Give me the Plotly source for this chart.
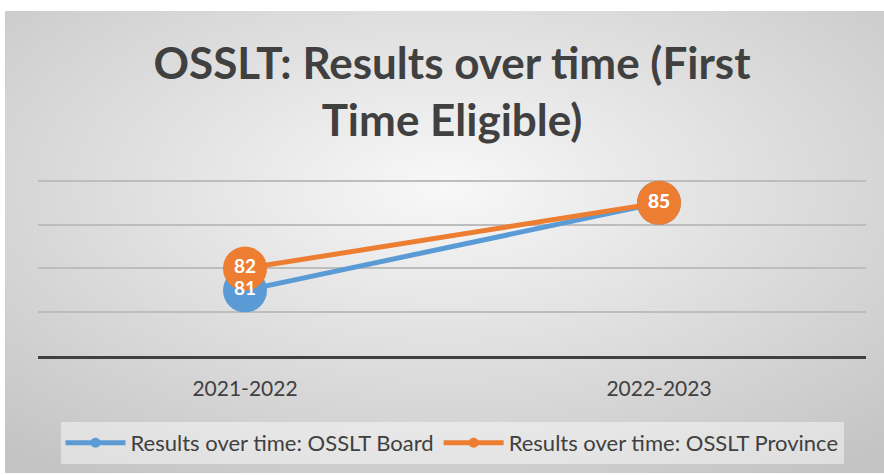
import base64
import plotly.graph_objects as go

# ---- data ----
categories = ["2021-2022", "2022-2023"]
board_values = [81, 85]
province_values = [82, 85]
series_names = ["Results over time: OSSLT Board", "Results over time: OSSLT Province"]
title_text = "OSSLT: Results over time (First<br>Time Eligible)"
y_min, y_max, y_step = 78, 86, 2

# ---- style ----
BLUE = "#5B9BD5"
ORANGE = "#ED7D31"
TEXT = "#404040"
FONT = "Lato"

W, H = 884, 475
ML, MR, MT, MB = 38, 18, 177, 118
PW, PH = W - ML - MR, H - MT - MB
PX_PER_UNIT = 22.0
y_top = y_min + PH / PX_PER_UNIT  # a little above the top gridline so it is drawn

svg = (
    '<svg xmlns="http://www.w3.org/2000/svg" width="879" height="465" '
    'viewBox="0 0 879 465" preserveAspectRatio="none"><defs>'
    '<radialGradient id="g" cx="50%" cy="38%" r="75%">'
    '<stop offset="0" stop-color="#f8f8f8"/>'
    '<stop offset="1" stop-color="#c4c4c4"/>'
    '</radialGradient></defs>'
    '<rect width="879" height="465" fill="url(#g)"/></svg>'
)
bg_uri = "data:image/svg+xml;base64," + base64.b64encode(svg.encode()).decode()

fig = go.Figure()

for vals, color in [(board_values, BLUE), (province_values, ORANGE)]:
    fig.add_trace(go.Scatter(
        x=categories, y=vals, mode="lines+markers",
        line=dict(color=color, width=5),
        marker=dict(color=color, size=44),
        showlegend=False, hoverinfo="skip",
    ))

for vals in [board_values, province_values]:
    fig.add_trace(go.Scatter(
        x=categories, y=vals, mode="text",
        text=[str(v) for v in vals], textposition="middle center",
        textfont=dict(family=FONT, size=19, color="white", weight="bold"),
        showlegend=False, hoverinfo="skip",
    ))

for name, color in zip(series_names, [BLUE, ORANGE]):
    fig.add_trace(go.Scatter(
        x=[None], y=[None], mode="lines+markers", name=name,
        line=dict(color=color, width=5),
        marker=dict(color=color, size=10),
    ))

fig.update_layout(
    width=W, height=H, autosize=False,
    margin=dict(l=ML, r=MR, t=MT, b=MB, pad=0),
    paper_bgcolor="white",
    plot_bgcolor="rgba(0,0,0,0)",
    title=dict(
        text=title_text, x=452 / W, xanchor="center",
        y=1 - 79 / H, yanchor="middle", yref="container",
        font=dict(family=FONT, size=44, color=TEXT, weight="bold"),
    ),
    images=[dict(
        source=bg_uri, xref="paper", yref="paper",
        x=(5 - ML) / PW, y=(H - MB - 10) / PH,
        sizex=879 / PW, sizey=465 / PH,
        xanchor="left", yanchor="top", sizing="stretch", layer="below",
    )],
    xaxis=dict(
        type="category", range=[-0.5, 1.5],
        showline=True, linecolor=TEXT, linewidth=3,
        showgrid=False, zeroline=False, ticks="",
        tickfont=dict(family=FONT, size=21, color=TEXT),
        ticklabelstandoff=12,
    ),
    yaxis=dict(
        range=[y_min, y_top], tick0=y_min, dtick=y_step,
        showgrid=True, gridcolor="#bdbdbd", gridwidth=1.5,
        showticklabels=False, zeroline=False, showline=False,
    ),
    legend=dict(
        orientation="h", x=0.5, xanchor="center",
        y=(H - MB - 422) / PH, yanchor="top",
        bgcolor="rgba(255,255,255,0.45)", borderwidth=0,
        font=dict(family=FONT, size=22, color=TEXT),
        itemwidth=60,
    ),
    showlegend=True,
)

fig.write_html(
    "out.html",
    config={"displayModeBar": False},
    post_script="document.body.style.margin='0';",
)
